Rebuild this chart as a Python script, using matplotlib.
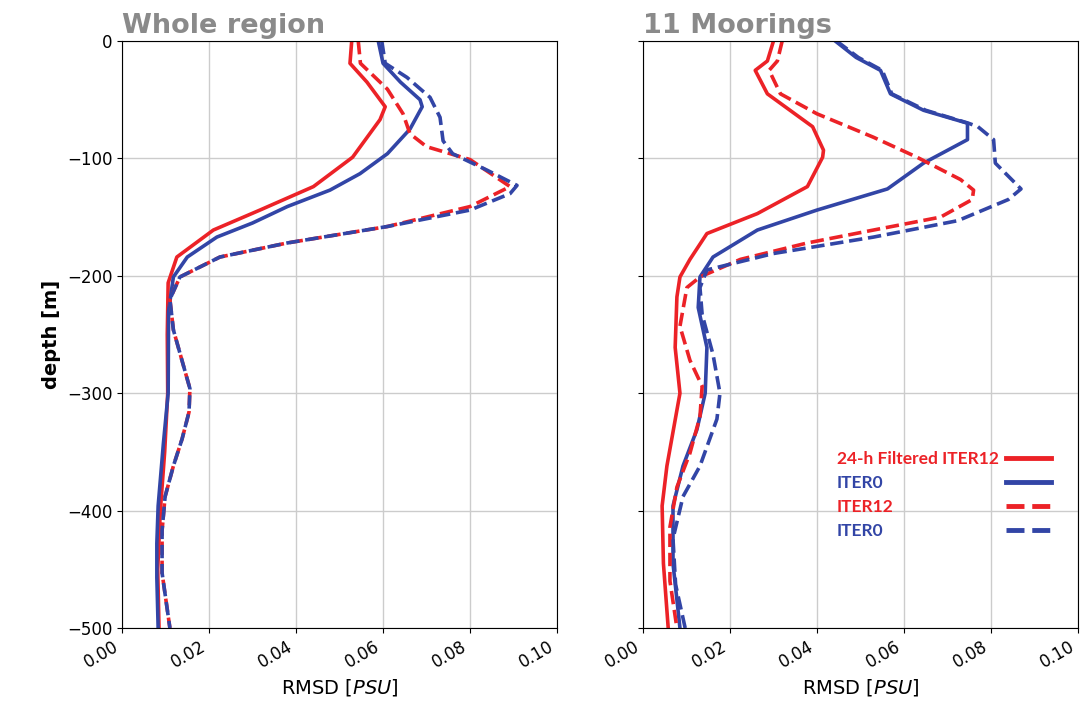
import numpy as np
import matplotlib.pyplot as plt
from matplotlib.lines import Line2D

# RMSD profiles (depth in m, RMSD in PSU)

# --- Whole region ---
zW_f12 = [0, -19, -35, -56, -67, -99, -124, -144, -161, -184, -206, -250, -300, -350, -400, -450, -500]
rW_f12 = [0.0528, 0.0524, 0.0563, 0.0605, 0.0593, 0.053, 0.044, 0.0317, 0.021, 0.0126, 0.0106, 0.0104,
          0.0105, 0.0098, 0.0088, 0.0082, 0.0085]

zW_f0 = [0, -19, -35, -50, -56, -75, -96, -113, -127, -141, -155, -167, -184, -201, -230, -300, -343,
         -396, -428, -457, -500]
rW_f0 = [0.0589, 0.060, 0.064, 0.0685, 0.069, 0.0662, 0.061, 0.0547, 0.0478, 0.038, 0.030, 0.0218,
         0.015, 0.0118, 0.0107, 0.0106, 0.0095, 0.0083, 0.008, 0.008, 0.0083]

zW_12 = [0, -19, -41, -62, -79, -90, -101, -124, -141, -158, -172, -184, -201, -220, -246, -275, -296,
         -316, -339, -362, -388, -417, -453, -500]
rW_12 = [0.0543, 0.0548, 0.061, 0.0646, 0.0662, 0.070, 0.080, 0.0892, 0.080, 0.061, 0.038, 0.0225,
         0.0133, 0.011, 0.0118, 0.014, 0.0156, 0.0154, 0.0138, 0.0118, 0.0099, 0.0092, 0.0092, 0.011]

zW_0 = [0, -19, -31, -48, -65, -85, -96, -110, -123, -130, -144, -158, -172, -184, -201, -220, -246,
        -275, -296, -316, -339, -362, -388, -417, -453, -500]
rW_0 = [0.0597, 0.0605, 0.0655, 0.0708, 0.0731, 0.0738, 0.076, 0.0839, 0.0908, 0.0892, 0.080, 0.061,
        0.038, 0.0225, 0.0133, 0.011, 0.0118, 0.014, 0.0156, 0.0154, 0.0138, 0.0118, 0.0099, 0.0092,
        0.0092, 0.011]

# --- 11 Moorings ---
zM_f12 = [0, -17, -25, -45, -73, -93, -99, -124, -147, -164, -186, -201, -218, -261, -300, -331, -362,
          -396, -445, -500]
rM_f12 = [0.030, 0.0286, 0.0258, 0.0286, 0.039, 0.0415, 0.0413, 0.0378, 0.0263, 0.0147, 0.0108,
          0.0085, 0.0078, 0.0074, 0.0085, 0.007, 0.0055, 0.0044, 0.0047, 0.0058]

zM_f0 = [0, -14, -25, -45, -59, -70, -84, -104, -126, -144, -161, -184, -201, -227, -261, -300, -331,
         -362, -396, -445, -500]
rM_f0 = [0.0442, 0.049, 0.0546, 0.0569, 0.0645, 0.0746, 0.0746, 0.0645, 0.0562, 0.040, 0.0263, 0.0161,
         0.0131, 0.0127, 0.0147, 0.0143, 0.0124, 0.0092, 0.0069, 0.0069, 0.0085]

zM_12 = [0, -17, -25, -45, -62, -82, -99, -118, -127, -135, -150, -161, -172, -186, -201, -210, -243,
         -272, -294, -320, -351, -380, -414, -460, -500]
rM_12 = [0.032, 0.0309, 0.029, 0.0316, 0.040, 0.053, 0.063, 0.073, 0.076, 0.0757, 0.0684, 0.053,
         0.0378, 0.0224, 0.0131, 0.0101, 0.0085, 0.0108, 0.0136, 0.0131, 0.0108, 0.0078, 0.0062,
         0.0062, 0.0078]

zM_0 = [0, -14, -25, -45, -59, -70, -73, -84, -104, -126, -135, -153, -167, -181, -195, -210, -233,
        -267, -300, -322, -362, -388, -424, -463, -500]
rM_0 = [0.0445, 0.0495, 0.055, 0.0572, 0.065, 0.0748, 0.077, 0.0806, 0.081, 0.0869, 0.084, 0.0724,
        0.053, 0.030, 0.0147, 0.0131, 0.0136, 0.0161, 0.0177, 0.017, 0.0131, 0.0092, 0.0069, 0.0075,
        0.0097]

labels = ["24-h Filtered ITER12", "ITER0", "ITER12", "ITER0"]
titles = ["Whole region", "11 Moorings"]
xticks = [0.0, 0.02, 0.04, 0.06, 0.08, 0.10]
yticks = [0, -100, -200, -300, -400, -500]

RED = '#ec2227'
BLUE = '#3245a6'
styles = [(RED, '-'), (BLUE, '-'), (RED, '--'), (BLUE, '--')]

panels = [
    [(rW_f12, zW_f12), (rW_f0, zW_f0), (rW_12, zW_12), (rW_0, zW_0)],
    [(rM_f12, zM_f12), (rM_f0, zM_f0), (rM_12, zM_12), (rM_0, zM_0)],
]

fig = plt.figure(figsize=(10.81, 7.17), dpi=100)
ax1 = fig.add_axes([0.1129, 0.1241, 0.4024, 0.8187])
ax2 = fig.add_axes([0.5948, 0.1241, 0.4024, 0.8187], sharey=ax1)

for ax, curves, title in zip([ax1, ax2], panels, titles):
    for (r, z), (c, ls) in zip(curves, styles):
        ax.plot(r, z, color=c, ls=ls, lw=2.6)
    ax.set_xlim(0, 0.1)
    ax.set_ylim(-500, 0)
    ax.set_xticks(xticks)
    ax.set_yticks(yticks)
    ax.set_xticklabels(["%.2f" % t for t in xticks])
    ax.grid(True, color='#cccccc', lw=1)
    ax.tick_params(labelsize=12)
    plt.setp(ax.get_xticklabels(), rotation=30, ha='right')
    ax.set_xlabel("RMSD [$PSU$]", fontsize=14)
    ax.set_title(title, loc='left', fontsize=19.5, fontweight='bold', color='#8a8a8a', pad=6)

ax1.set_ylabel("depth [m]", fontsize=14, fontweight='bold')
ax2.tick_params(labelleft=False)

# legend: text on the left, line sample on the right
handles = [Line2D([], [], color=c, ls=ls, lw=3.5) for c, ls in styles]
leg = ax2.legend(handles, labels, markerfirst=False, labelcolor='linecolor', frameon=False,
                 loc='upper right', bbox_to_anchor=(0.966, 0.322), handlelength=2.6,
                 handletextpad=0.4, labelspacing=0.45, borderpad=0.2,
                 prop={'family': 'Lato', 'weight': 'bold', 'size': 12.5})

# pad the rows so the texts line up on the left
fig.canvas.draw()
renderer = fig.canvas.get_renderer()
widths = [t.get_window_extent(renderer).width for t in leg.get_texts()]
wmax = max(widths)
column = leg._legend_handle_box.get_children()[0]
for row, w in zip(column.get_children(), widths):
    row.sep = row.sep + (wmax - w) * 72.0 / fig.dpi

fig.savefig("out.png", dpi=100)
